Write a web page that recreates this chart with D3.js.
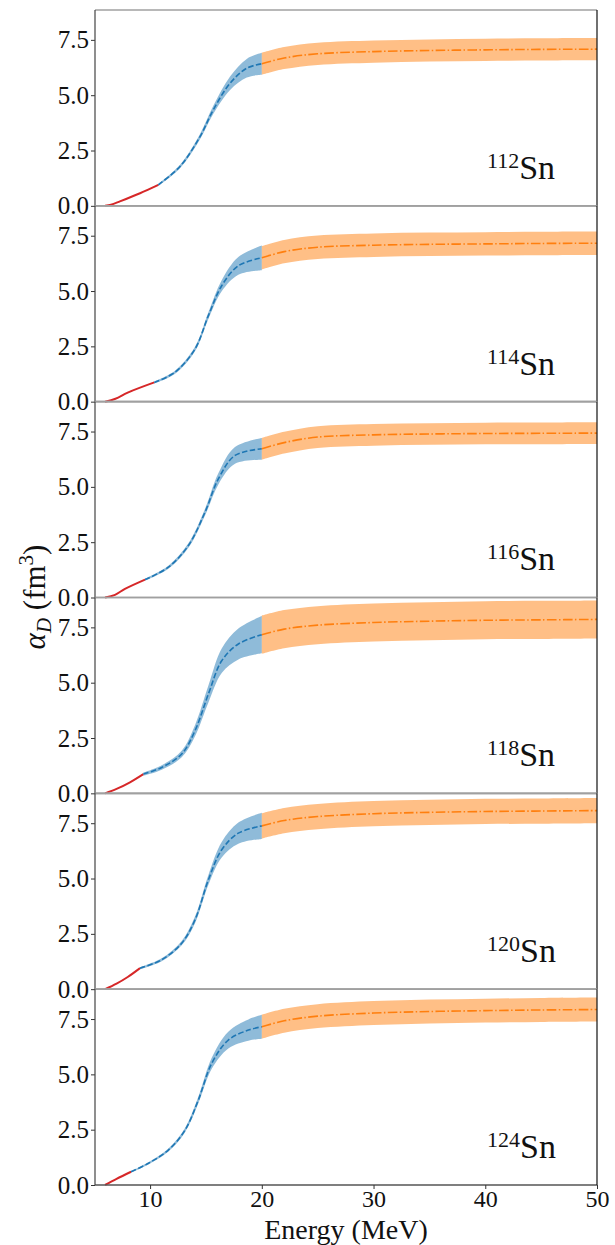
<html>
<head>
  <script src="https://d3js.org/d3.v7.min.js"></script>
  <style>
    body {
      margin: 0;
      padding: 0;
      background-color: white;
      overflow: hidden;
    }
    svg {
      font-family: "Liberation Serif", serif;
    }
  </style>
</head>
<body>
  <svg width="615" height="1245"></svg>

  <script>
    // isotope labels, top to bottom
    const nuclei = ["112", "114", "116", "118", "120", "124"];

    // low-energy part (red): [E, alpha]
    const redData = [
      [[5.97, 0], [6.5, 0.05], [7.3, 0.2], [9.1, 0.57], [10.74, 0.95]],
      [[5.97, 0], [6.9, 0.13], [8.05, 0.42], [10.38, 0.87]],
      [[5.97, 0], [6.86, 0.12], [7.75, 0.39], [9.55, 0.81]],
      [[5.97, 0], [7.0, 0.2], [8.2, 0.5], [9.4, 0.87]],
      [[5.97, 0], [7.0, 0.25], [8.0, 0.55], [9.1, 0.95]],
      [[5.97, 0], [7.0, 0.28], [8.3, 0.6]]
    ];

    // resonance region (blue): [E, alpha, error]
    const blueData = [
      [[10.74, 0.95, 0.05], [12.68, 1.78, 0.08], [14.47, 3.13, 0.12], [15.66, 4.34, 0.18], [17.16, 5.54, 0.3], [18.65, 6.22, 0.42], [20, 6.42, 0.5]],
      [[10.38, 0.87, 0.05], [12.23, 1.33, 0.07], [14.02, 2.38, 0.1], [15.22, 3.89, 0.15], [16.41, 5.24, 0.25], [17.9, 6.14, 0.4], [20, 6.5, 0.56]],
      [[9.55, 0.81, 0.05], [11.64, 1.37, 0.07], [13.43, 2.35, 0.1], [14.92, 3.86, 0.15], [16.11, 5.36, 0.25], [17.6, 6.42, 0.38], [20, 6.72, 0.49]],
      [[9.4, 0.87, 0.07], [11.04, 1.17, 0.1], [12.83, 1.78, 0.15], [14.02, 2.83, 0.25], [15.22, 4.49, 0.38], [16.41, 5.99, 0.55], [17.9, 6.75, 0.7], [20, 7.17, 0.84]],
      [[9.1, 0.95, 0.05], [11.04, 1.33, 0.07], [12.83, 2.08, 0.1], [14.02, 3.13, 0.15], [15.22, 4.94, 0.22], [16.41, 6.3, 0.35], [17.9, 7.05, 0.48], [20, 7.38, 0.59]],
      [[8.3, 0.6, 0.03], [9.85, 0.98, 0.05], [11.64, 1.58, 0.07], [13.13, 2.48, 0.1], [14.32, 3.84, 0.15], [15.52, 5.5, 0.25], [17.0, 6.55, 0.38], [18.8, 7.0, 0.48], [20, 7.15, 0.54]]
    ];

    // high-energy part (orange)
    const orangeE = [20, 22, 25, 30, 35, 40, 45, 50];
    const orangeA = [
      [6.42, 6.68, 6.87, 6.97, 7.02, 7.05, 7.07, 7.08],
      [6.5, 6.78, 6.98, 7.07, 7.11, 7.13, 7.15, 7.16],
      [6.72, 7.0, 7.25, 7.35, 7.39, 7.41, 7.42, 7.43],
      [7.17, 7.42, 7.6, 7.72, 7.78, 7.82, 7.84, 7.86],
      [7.38, 7.62, 7.8, 7.93, 7.99, 8.03, 8.05, 8.07],
      [7.15, 7.42, 7.63, 7.77, 7.84, 7.88, 7.91, 7.93]
    ];
    const orangeErr = [0.5, 0.53, 0.49, 0.86, 0.57, 0.54];

    const yTicks = [0, 2.5, 5.0, 7.5];
    const xTicks = [10, 20, 30, 40, 50];

    const svg = d3.select("svg"),
          margin = { top: 10, left: 95, right: 18 },
          width = 615 - margin.left - margin.right,
          panelH = (1185 - margin.top) / nuclei.length;

    const x = d3.scaleLinear().domain([5.07, 50]).range([0, width]);
    const y = d3.scaleLinear().domain([0, 8.85]).range([panelH, 0]);

    const line = d3.line()
        .x(d => x(d[0]))
        .y(d => y(d[1]))
        .curve(d3.curveCatmullRom.alpha(0.5));

    const band = d3.area()
        .x(d => x(d[0]))
        .y0(d => y(d[1] - d[2]))
        .y1(d => y(d[1] + d[2]))
        .curve(d3.curveCatmullRom.alpha(0.5));

    nuclei.forEach((nuc, i) => {
      const g = svg.append("g")
          .attr("transform", "translate(" + margin.left + "," + (margin.top + i * panelH) + ")");

      const orange = orangeE.map((e, j) => [e, orangeA[i][j], orangeErr[i]]);

      // bands
      g.append("path")
          .datum(blueData[i])
          .attr("fill", "#1f77b4")
          .attr("fill-opacity", 0.5)
          .attr("d", band);

      g.append("path")
          .datum(orange)
          .attr("fill", "#ff7f0e")
          .attr("fill-opacity", 0.5)
          .attr("d", band);

      // lines
      g.append("path")
          .datum(redData[i])
          .attr("fill", "none")
          .attr("stroke", "#d62728")
          .attr("stroke-width", 2)
          .attr("d", line);

      g.append("path")
          .datum(blueData[i])
          .attr("fill", "none")
          .attr("stroke", "#1f77b4")
          .attr("stroke-width", 1.6)
          .attr("stroke-dasharray", "5.5,2.4")
          .attr("d", line);

      g.append("path")
          .datum(orange)
          .attr("fill", "none")
          .attr("stroke", "#ff7f0e")
          .attr("stroke-width", 1.6)
          .attr("stroke-dasharray", "9.6,2.4,1.5,2.4")
          .attr("d", line);

      // y axis
      const yAxis = g.append("g")
          .call(d3.axisLeft(y).tickValues(yTicks).tickFormat(d3.format(".1f")).tickSize(4).tickPadding(2));
      yAxis.select(".domain").remove();
      yAxis.selectAll("text")
          .attr("font-family", "Liberation Serif")
          .attr("font-size", 25)
          .attr("fill", "#111");
      yAxis.selectAll("line").attr("stroke", "#333");

      // frame
      g.append("line")
          .attr("x1", 0).attr("x2", width)
          .attr("y1", 0).attr("y2", 0)
          .attr("stroke", "#a0a0a0").attr("stroke-width", 1.6);
      g.append("line")
          .attr("x1", 0).attr("x2", width)
          .attr("y1", panelH).attr("y2", panelH)
          .attr("stroke", i === nuclei.length - 1 ? "#555" : "#a0a0a0").attr("stroke-width", 1.6);
      g.append("line")
          .attr("x1", 0).attr("x2", 0)
          .attr("y1", 0).attr("y2", panelH)
          .attr("stroke", "#444").attr("stroke-width", 1.2);
      g.append("line")
          .attr("x1", width).attr("x2", width)
          .attr("y1", 0).attr("y2", panelH)
          .attr("stroke", "#111").attr("stroke-width", 1.2);

      // isotope label
      const lbl = g.append("text")
          .attr("x", 392)
          .attr("y", panelH - 27)
          .attr("fill", "#111");
      lbl.append("tspan")
          .attr("font-size", 22)
          .attr("dy", -11)
          .text(nuc);
      lbl.append("tspan")
          .attr("font-size", 34)
          .attr("dy", 11)
          .text("Sn");

      // x axis on the last panel
      if (i === nuclei.length - 1) {
        const xAxis = g.append("g")
            .attr("transform", "translate(0," + panelH + ")")
            .call(d3.axisBottom(x).tickValues(xTicks).tickSize(4).tickPadding(1));
        xAxis.select(".domain").remove();
        xAxis.selectAll("text")
            .attr("font-family", "Liberation Serif")
            .attr("font-size", 24)
            .attr("fill", "#111");
        xAxis.selectAll("line").attr("stroke", "#333");
      }
    });

    // axis labels
    svg.append("text")
        .attr("x", margin.left + width / 2)
        .attr("y", 1239)
        .attr("text-anchor", "middle")
        .attr("font-size", 28)
        .attr("fill", "#111")
        .text("Energy (MeV)");

    const ylab = svg.append("text")
        .attr("transform", "translate(45,597) rotate(-90)")
        .attr("text-anchor", "middle")
        .attr("font-size", 31)
        .attr("fill", "#111");
    ylab.append("tspan").attr("font-style", "italic").text("α");
    ylab.append("tspan").attr("font-style", "italic").attr("font-size", 21).attr("dy", 6).text("D");
    ylab.append("tspan").attr("dy", -6).text(" (fm");
    ylab.append("tspan").attr("font-size", 21).attr("dy", -12).text("3");
    ylab.append("tspan").attr("dy", 12).text(")");
  </script>
</body>
</html>
